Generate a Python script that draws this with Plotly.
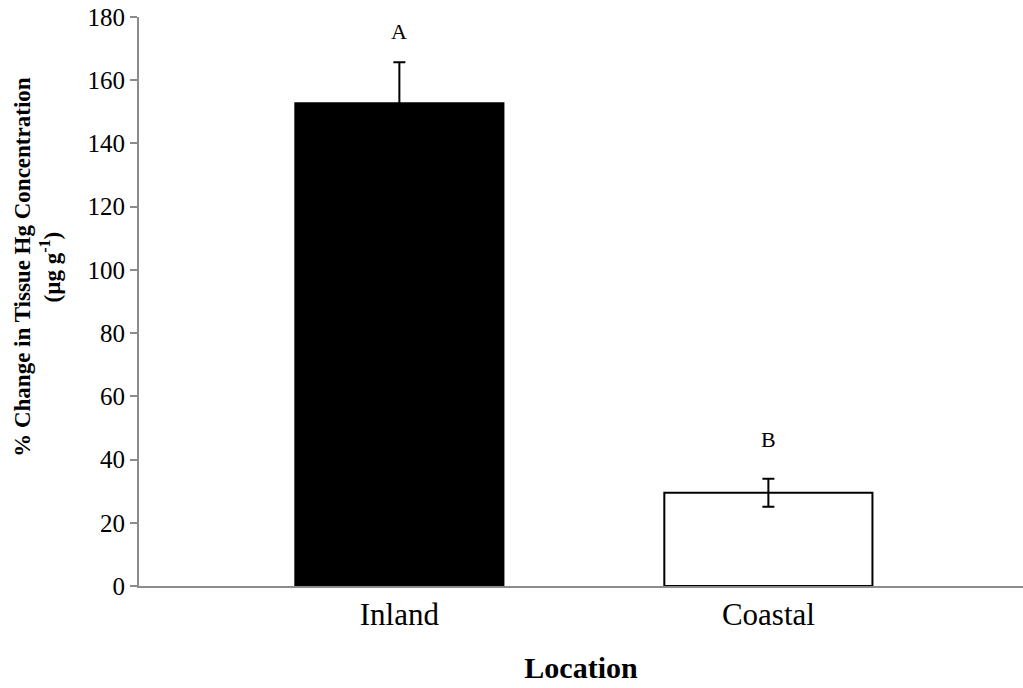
import plotly.graph_objects as go

# Mean % change in tissue Hg concentration by location, with standard error
locations = ["Inland", "Coastal"]
pct_change = [152.7, 29.5]
std_err = [13.0, 4.45]
sig_letters = ["A", "B"]

bar_fill = ["black", "white"]
letter_shift = [31, 39]

SERIF = "Liberation Serif, Times New Roman, serif"

fig = go.Figure()
fig.add_trace(go.Bar(
    x=locations,
    y=pct_change,
    width=0.564,
    marker=dict(color=bar_fill, line=dict(color="black", width=2)),
    error_y=dict(type="data", array=std_err, visible=True,
                 color="black", thickness=2, width=6),
    showlegend=False,
))

# Significance letters above each error bar
for loc, val, err, letter, shift in zip(locations, pct_change, std_err, sig_letters, letter_shift):
    fig.add_annotation(x=loc, y=val + err, text=letter, showarrow=False,
                       yanchor="middle", yshift=shift,
                       font=dict(family=SERIF, size=22, color="black"))

# Two-line rotated y-axis title
fig.add_annotation(
    xref="paper", yref="paper",
    x=(38 - 139) / 884, y=(586.5 - 267) / 569.5,
    xanchor="center", yanchor="middle",
    text="<b>% Change in Tissue Hg Concentration<br>(µg g<sup>-1</sup>)</b>",
    textangle=-90, showarrow=False,
    font=dict(family=SERIF, size=23, color="black"),
)

fig.update_layout(
    width=1023, height=688,
    margin=dict(l=139, r=0, t=17, b=101.5),
    paper_bgcolor="white", plot_bgcolor="white",
    bargap=0.3,
    font=dict(family=SERIF, color="black"),
    xaxis=dict(
        type="category",
        range=[-0.7056, 1.69],
        showline=True, linecolor="#8c8c8c", linewidth=2,
        ticks="", showgrid=False, zeroline=False,
        tickfont=dict(family=SERIF, size=31, color="black"),
        title=dict(text="<b>Location</b>", standoff=26,
                   font=dict(family=SERIF, size=30, color="black")),
    ),
    yaxis=dict(
        range=[0, 180], dtick=20,
        showline=True, linecolor="#8c8c8c", linewidth=2,
        ticks="outside", ticklen=7, tickcolor="#8c8c8c", tickwidth=2,
        showgrid=False, zeroline=False,
        tickfont=dict(family=SERIF, size=25, color="black"),
    ),
)

fig.write_html("out.html")
